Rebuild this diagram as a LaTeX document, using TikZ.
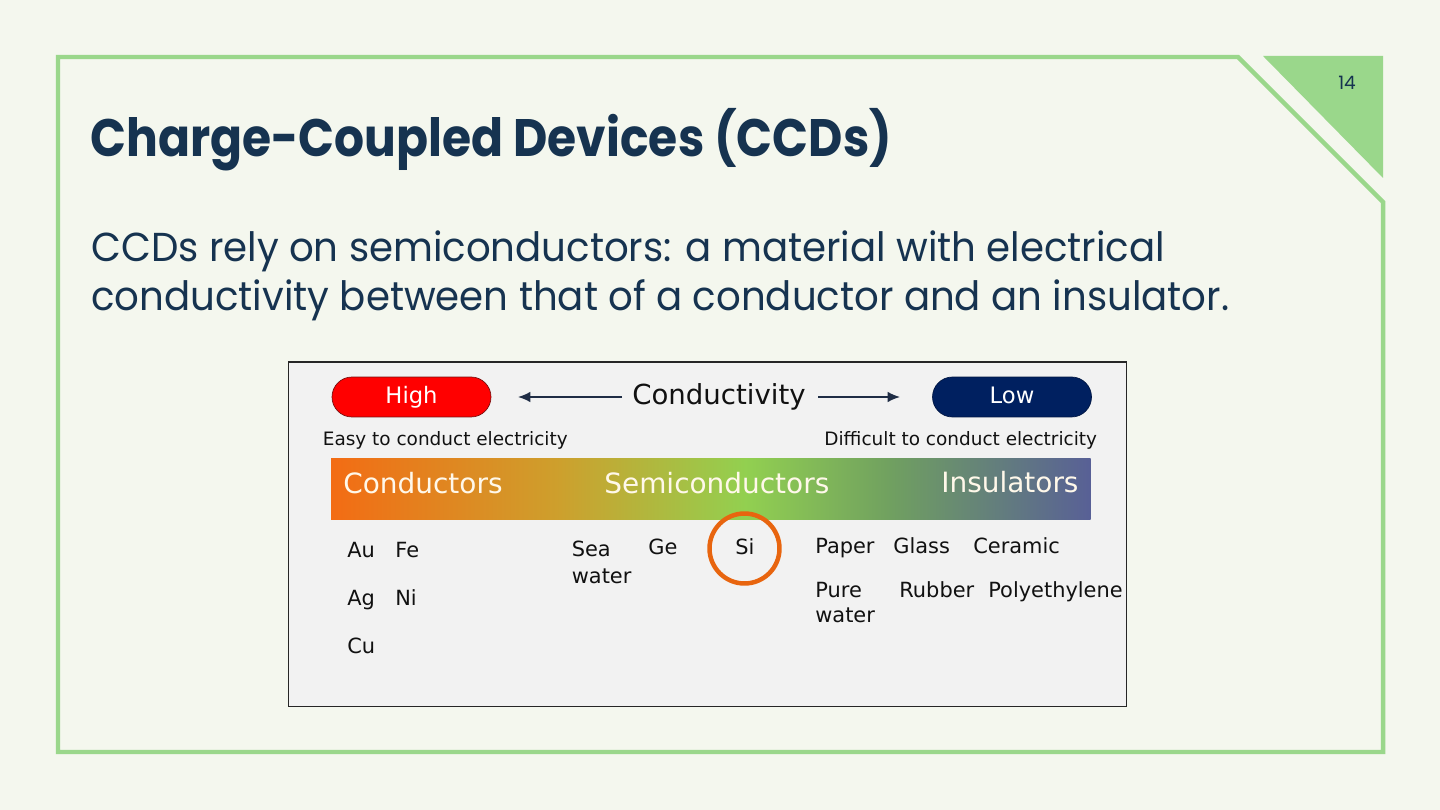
\documentclass[tikz,border=0pt]{standalone}
\usepackage{fontspec}
\setmainfont{Poppins}
\newfontfamily\figfont{DejaVu Sans}
\usetikzlibrary{arrows.meta}
\definecolor{bg}{HTML}{F4F7EE}
\definecolor{framegreen}{HTML}{9AD78B}
\definecolor{navy}{HTML}{163350}
\definecolor{panel}{HTML}{F2F2F2}
\definecolor{pillred}{HTML}{FF0000}
\definecolor{pillredb}{HTML}{7A1010}
\definecolor{pillblue}{HTML}{002060}
\definecolor{arrowc}{HTML}{1F2D45}
\definecolor{barA}{HTML}{F36C14}
\definecolor{barB}{HTML}{CDA02D}
\definecolor{barC}{HTML}{92D050}
\definecolor{barD}{HTML}{70A060}
\definecolor{barE}{HTML}{586096}
\definecolor{bartext}{HTML}{FFF8EA}
\definecolor{siorange}{HTML}{E8650F}
\definecolor{figtext}{HTML}{111111}
\tikzset{
  lbl/.style={anchor=base west, inner sep=0pt, text=figtext, font=\figfont\fontsize{11.9}{14}\selectfont},
  barlbl/.style={anchor=base west, inner sep=0pt, text=bartext, font=\figfont\fontsize{15.9}{18}\selectfont},
  pill/.style={draw, rounded corners=0.4cm, minimum width=3.18cm, minimum height=0.8cm, inner sep=0pt, text height=9.5pt, text depth=2.3pt, text=white, font=\figfont\fontsize{12.9}{15}\selectfont},
  arr/.style={-{Latex[length=7pt,width=6pt]}, draw=arrowc, line width=0.9pt},
  slidetext/.style={anchor=base west, inner sep=0pt, text=navy},
}
\begin{document}
\begin{tikzpicture}[x=0.02cm,y=-0.02cm]
\useasboundingbox (0,0) rectangle (1440,810);
\fill[bg] (0,0) rectangle (1440,810);
% frame
\draw[framegreen, line width=2.55pt, line join=miter] (58,57) -- (1238,57) -- (1383,202) -- (1383,752) -- (58,752) -- cycle;
\fill[framegreen] (1263,56) -- (1383,56) -- (1383,178) -- cycle;
\node[inner sep=0pt, text=navy, font=\fontsize{10.5}{12}\selectfont] (pagenum) at (1347,83) {14};
% title and body
\node[slidetext, font=\bfseries\fontsize{30}{36}\selectfont] (title) at (90,157) {\scalebox{0.895}[1]{Charge-Coupled Devices (CCDs)}};
\node[slidetext, font=\fontsize{23}{28}\selectfont] (body1) at (91,262) {\scalebox{0.958}[1]{CCDs rely on semiconductors: a material with electrical}};
\node[slidetext, font=\fontsize{23}{28}\selectfont] (body2) at (91,311) {\scalebox{0.958}[1]{conductivity between that of a conductor and an insulator.}};
% figure panel
\draw[fill=panel, draw=black!85, line width=0.8pt] (288.5,362) rectangle (1126.5,706.5);
\node[pill, fill=pillred, draw=pillredb] (high) at (411.5,397) {High};
\node[pill, fill=pillblue, draw=pillblue!70!black] (low) at (1012,397) {Low};
\node[anchor=base west, inner sep=0pt, text=figtext, font=\figfont\fontsize{15.7}{18}\selectfont] (cond) at (632,405) {Conductivity};
\coordinate (la) at (622,397);
\coordinate (lb) at (518,397);
\coordinate (ra) at (818,397);
\coordinate (rb) at (900,397);
\draw[arr] (la) -- (lb);
\draw[arr] (ra) -- (rb);
\node[lbl, font=\figfont\fontsize{10.5}{12}\selectfont] (easy) at (322.5,446) {Easy to conduct electricity};
\node[lbl, font=\figfont\fontsize{10.5}{12}\selectfont] (diff) at (824,446) {Difficult to conduct electricity};
% gradient bar
\shade[left color=barA, right color=barB] (331,459) rectangle (561,519.5);
\shade[left color=barB, right color=barC] (560,459) rectangle (746,519.5);
\shade[left color=barC, right color=barD] (745,459) rectangle (891,519.5);
\shade[left color=barD, right color=barE] (890,459) rectangle (1090.5,519.5);
\node[barlbl] (conductors) at (343,494) {Conductors};
\node[barlbl] (semi) at (604,494) {Semiconductors};
\node[barlbl] (insul) at (941,493) {Insulators};
% materials
\node[lbl] (au) at (347,558) {Au};
\node[lbl] (fe) at (395,558) {Fe};
\node[lbl] (ag) at (347,605) {Ag};
\node[lbl] (ni) at (395,605) {Ni};
\node[lbl] (cu) at (347,653) {Cu};
\node[lbl] (sea) at (571.5,557) {Sea};
\node[lbl] (seawater) at (571.5,583) {water};
\node[lbl] (ge) at (648,555) {Ge};
\node[lbl] (si) at (735,555) {Si};
\node[circle, draw=siorange, line width=2.55pt, minimum size=1.4cm, inner sep=0pt] (sicirc) at (744.5,548.5) {};
\node[lbl] (paper) at (815,554) {Paper};
\node[lbl] (glass) at (893,554) {Glass};
\node[lbl] (ceramic) at (973,554) {Ceramic};
\node[lbl] (pure) at (815,597) {Pure};
\node[lbl] (purewater) at (815,622) {water};
\node[lbl] (rubber) at (899,597) {Rubber};
\node[lbl] (poly) at (988,597) {Polyethylene};
\end{tikzpicture}
\end{document}
